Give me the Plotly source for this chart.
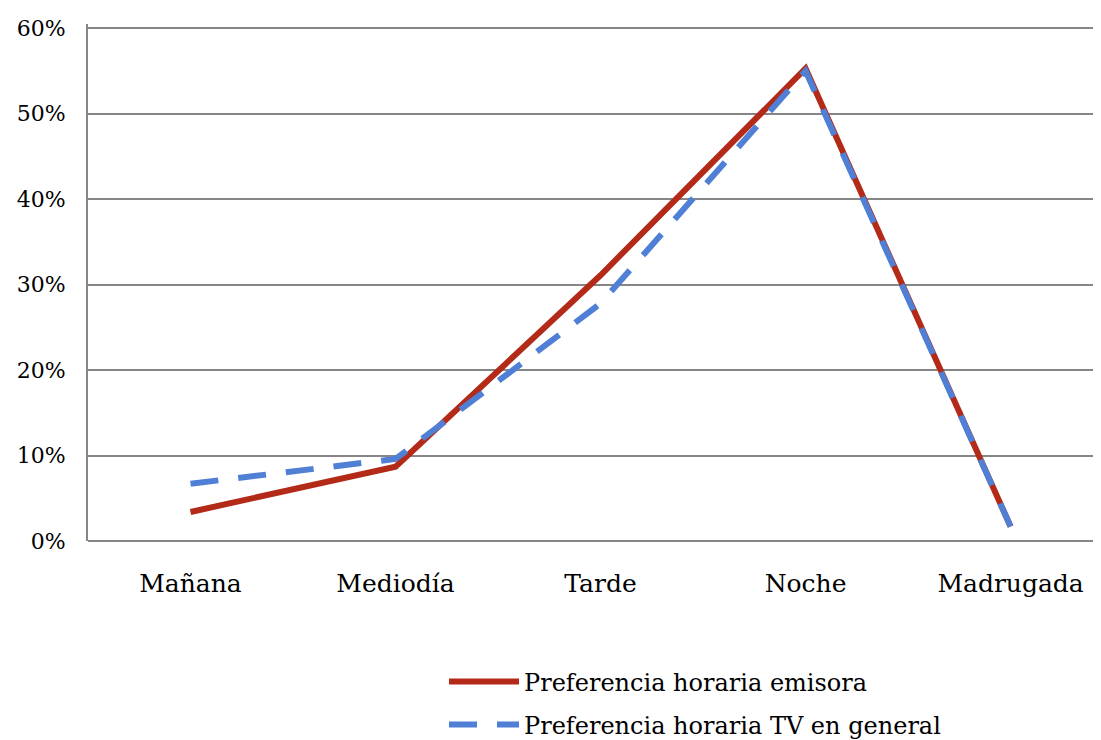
import plotly.graph_objects as go

categories = ["Mañana", "Mediodía", "Tarde", "Noche", "Madrugada"]
emisora = [0.034, 0.087, 0.311, 0.553, 0.017]
tv_general = [0.067, 0.096, 0.278, 0.550, 0.017]
y_ticks = [0, 0.1, 0.2, 0.3, 0.4, 0.5, 0.6]
y_labels = ["0%", "10%", "20%", "30%", "40%", "50%", "60%"]

FONT = "DejaVu Serif"

fig = go.Figure()
fig.add_trace(go.Scatter(
    x=categories, y=emisora, mode="lines",
    name="Preferencia horaria emisora", legendgroup="a",
    line=dict(color="#B32B18", width=6),
))
fig.add_trace(go.Scatter(
    x=categories, y=tv_general, mode="lines",
    name="Preferencia horaria TV en general", legendgroup="b",
    line=dict(color="#4F80D5", width=6, dash="28px,20px"),
))

fig.update_layout(
    width=1101, height=740,
    margin=dict(l=80, r=0, t=16, b=207),
    paper_bgcolor="white", plot_bgcolor="white",
    font=dict(family=FONT, size=20, color="#000000"),
    showlegend=True,
    legend=dict(
        x=0.3487, y=-0.399, xanchor="left", yanchor="bottom",
        orientation="v", font=dict(family=FONT, size=24),
        itemwidth=70, tracegroupgap=9,
        bgcolor="rgba(0,0,0,0)",
    ),
    xaxis=dict(
        type="category", range=[-0.5, 4.48], automargin=False,
        showgrid=False, showline=False, zeroline=False,
        ticks="", tickfont=dict(family=FONT, size=25),
        ticklabelstandoff=25,
    ),
    yaxis=dict(
        range=[0, 0.605], tickvals=y_ticks, ticktext=y_labels, automargin=False,
        showgrid=True, gridcolor="#868686", gridwidth=2,
        zeroline=True, zerolinecolor="#868686", zerolinewidth=2,
        showline=True, linecolor="#868686", linewidth=2,
        ticks="", tickfont=dict(family=FONT, size=22),
        ticklabelstandoff=16,
    ),
)

fig.write_html("out.html")
